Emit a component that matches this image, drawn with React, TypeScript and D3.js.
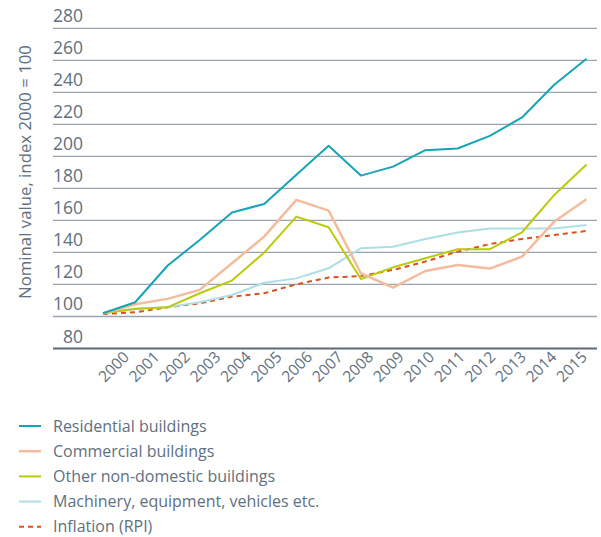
import React from "react";
import * as d3 from "d3";

const years = [2000, 2001, 2002, 2003, 2004, 2005, 2006, 2007, 2008, 2009, 2010, 2011, 2012, 2013, 2014, 2015];
const residential = [102, 108.9, 131.7, 147.8, 164.9, 170.3, 188.5, 206.6, 188, 193.6, 203.9, 204.9, 212.8, 224.3, 244.7, 261];
const commercial = [102, 107.6, 111, 116.6, 133.2, 149.9, 172.8, 166.1, 127, 118, 128.4, 132.2, 129.9, 137.4, 159.3, 173.2];
const otherNonDomestic = [102, 104.7, 105.7, 114.5, 122.4, 139.9, 162.4, 155.7, 123.4, 130.7, 136.4, 142, 142, 152.6, 175.9, 194.9];
const machinery = [102, 105, 105.7, 108.9, 113.4, 121.1, 123.8, 130.1, 142.6, 143.6, 148.4, 152.4, 154.9, 154.9, 154.9, 157.2];
const inflation = [101.6, 102.6, 105.7, 108.2, 112.4, 114.5, 120.1, 124.3, 125.3, 129.1, 134.3, 140.5, 145.2, 148.4, 150.9, 153.4];
const yTicks = [80, 100, 120, 140, 160, 180, 200, 220, 240, 260, 280];

const series = [
  { name: "Residential buildings", values: residential, color: "#17a3b8", width: 2, dash: null },
  { name: "Commercial buildings", values: commercial, color: "#f4bb9c", width: 2.5, dash: null },
  { name: "Other non-domestic buildings", values: otherNonDomestic, color: "#b9cb0a", width: 2, dash: null },
  { name: "Machinery, equipment, vehicles etc.", values: machinery, color: "#acdfe5", width: 2, dash: null },
  { name: "Inflation (RPI)", values: inflation, color: "#d9531e", width: 2, dash: "5,4" },
];

const textColor = "#607080";
const font = "'Open Sans', sans-serif";

export default function App() {
  const width = 601;
  const height = 537;
  const x = d3.scaleLinear().domain([2000, 2015]).range([103, 586.5]);
  // year labels are spaced a little tighter than the data points
  const xLabel = d3.scaleLinear().domain([2000, 2015]).range([130, 588]);
  const y = d3.scaleLinear().domain([80, 280]).range([348.5, 28.3]);
  const line = d3
    .line<number>()
    .x((_, i) => x(years[i]))
    .y((d) => y(d));

  return (
    <svg width={width} height={height} style={{ position: "absolute", left: 0, top: 0, background: "#fff" }}>
      {/* gridlines + y labels */}
      {yTicks.map((t) => (
        <g key={t}>
          <line
            x1={53}
            x2={597}
            y1={y(t)}
            y2={y(t)}
            stroke={t === 80 ? "#5a6a7a" : "#9aa4b0"}
            strokeWidth={t === 80 ? 2 : 1.3}
          />
          <text x={83} y={y(t) - 6} textAnchor="end" fontSize={17.5} fill={textColor} fontFamily={font}>
            {t}
          </text>
        </g>
      ))}

      {/* y axis title */}
      <text
        transform="translate(31,172) rotate(-90)"
        textAnchor="middle"
        fontSize={16.8}
        fill={textColor}
        fontFamily={font}
      >
        Nominal value, index 2000 = 100
      </text>

      {/* x labels */}
      {years.map((yr) => (
        <text
          key={yr}
          transform={`translate(${xLabel(yr)},358) rotate(-45)`}
          textAnchor="end"
          fontSize={15.5}
          fill={textColor}
          fontFamily={font}
        >
          {yr}
        </text>
      ))}

      {/* lines */}
      {series
        .slice()
        .reverse()
        .map((s) => (
          <path
            key={s.name}
            d={line(s.values) || ""}
            fill="none"
            stroke={s.color}
            strokeWidth={s.width}
            strokeDasharray={s.dash || undefined}
            strokeLinejoin="round"
          />
        ))}

      {/* legend */}
      {series.map((s, i) => {
        const cy = 426 + i * 25.2;
        return (
          <g key={s.name}>
            <line
              x1={19}
              x2={41}
              y1={cy}
              y2={cy}
              stroke={s.color}
              strokeWidth={s.width}
              strokeDasharray={s.dash || undefined}
            />
            <text x={53} y={cy + 5.5} fontSize={16} fill={textColor} fontFamily={font}>
              {s.name}
            </text>
          </g>
        );
      })}
    </svg>
  );
}
